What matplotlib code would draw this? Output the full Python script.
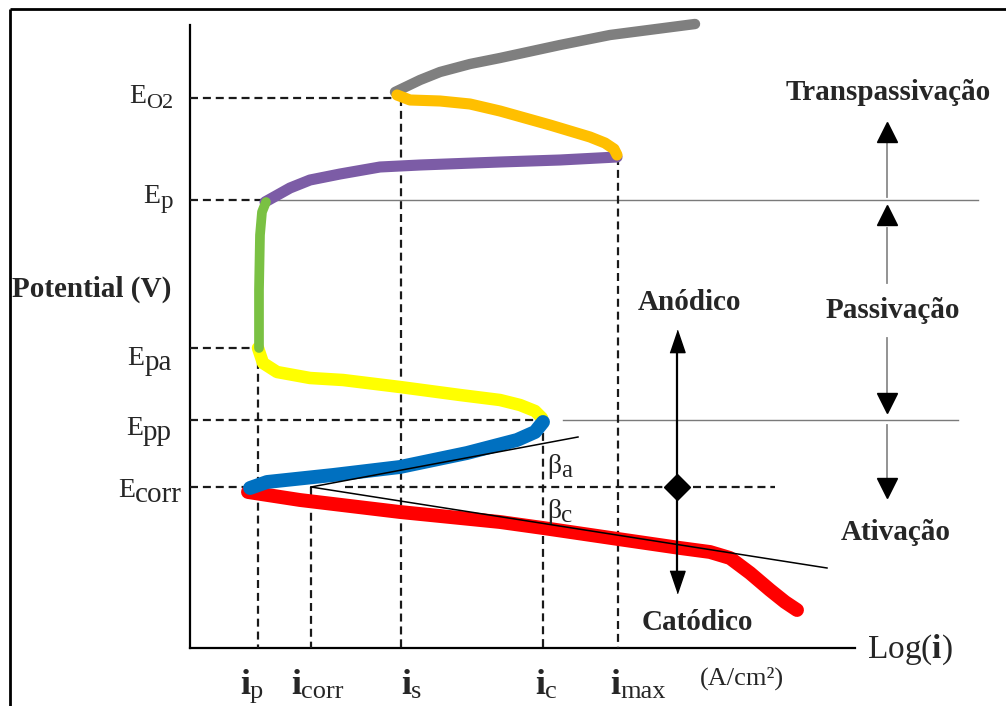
import matplotlib
matplotlib.use('Agg')
import matplotlib.pyplot as plt
import numpy as np

plt.rcParams['font.family'] = ['Liberation Serif', 'DejaVu Serif']
plt.rcParams['mathtext.fontset'] = 'custom'
plt.rcParams['mathtext.rm'] = 'Liberation Serif'
plt.rcParams['mathtext.bf'] = 'Liberation Serif:bold'

#%% schematic data (arbitrary units: x = log i, y = potential)
E_names = ['O2', 'p', 'pa', 'pp', 'corr']
E_vals = [5.50, 4.48, 3.00, 2.28, 1.61]
i_names = ['p', 'corr', 's', 'c', 'max']
i_vals = [0.68, 1.21, 2.11, 3.53, 4.28]

# transpassive branch
gray_x = [2.05, 2.30, 2.50, 2.80, 3.10, 3.70, 4.20, 5.05]
gray_y = [5.56, 5.68, 5.76, 5.84, 5.90, 6.03, 6.13, 6.24]
orange_x = [2.07, 2.20, 2.50, 2.80, 3.10, 3.60, 4.00, 4.15, 4.24, 4.27]
orange_y = [5.53, 5.48, 5.47, 5.44, 5.37, 5.23, 5.11, 5.05, 4.99, 4.93]
# passive branch
purple_x = [0.75, 1.00, 1.20, 1.50, 1.90, 2.30, 3.10, 3.70, 4.27]
purple_y = [4.46, 4.60, 4.68, 4.74, 4.81, 4.83, 4.86, 4.88, 4.91]
green_x = [0.76, 0.72, 0.70, 0.69, 0.69]
green_y = [4.46, 4.36, 4.13, 3.58, 3.00]
yellow_x = [0.68, 0.73, 0.87, 1.20, 1.53, 2.10, 2.70, 3.10, 3.30, 3.45, 3.52]
yellow_y = [3.00, 2.85, 2.76, 2.70, 2.68, 2.61, 2.53, 2.48, 2.43, 2.37, 2.30]
# active (anodic) and cathodic branches
blue_x = [0.60, 0.77, 1.43, 2.10, 2.77, 3.27, 3.45, 3.53]
blue_y = [1.60, 1.66, 1.73, 1.81, 1.95, 2.08, 2.16, 2.26]
red_x = [0.58, 1.10, 2.10, 3.10, 3.53, 4.28, 4.90, 5.20, 5.40, 5.60, 5.80, 5.95, 6.07]
red_y = [1.56, 1.48, 1.36, 1.26, 1.20, 1.09, 1.00, 0.96, 0.90, 0.75, 0.58, 0.46, 0.38]
# Tafel tangents
tafel_a_x = [1.21, 3.88]
tafel_a_y = [1.61, 2.11]
tafel_c_x = [1.21, 6.37]
tafel_c_y = [1.61, 0.80]

#%%
fig = plt.figure(figsize=(10.06, 7.06), dpi=100)
ax = fig.add_axes([0, 0, 1, 1])
ax.set_xlim(-1.90, 8.16)
ax.set_ylim(-0.58, 6.48)
ax.axis('off')
txt_col = '#262626'

# picture frame (top + left)
ax.plot([-1.80, 8.16], [6.39, 6.39], color='black', lw=2, solid_capstyle='butt')
ax.plot([-1.80, -1.80], [6.39, -0.58], color='black', lw=2, solid_capstyle='butt')

# axes
ax.plot([0, 0], [0, 6.23], color='black', lw=1.6)
ax.plot([0, 6.65], [0, 0], color='black', lw=1.6)

E = dict(zip(E_names, E_vals))
I = dict(zip(i_names, i_vals))
dash = dict(color='#1a1a1a', lw=1.6, dashes=(3.6, 2.2))
thin = dict(color='#7a7a7a', lw=1.0)

ax.plot([0, I['s']], [E['O2']] * 2, **dash)
ax.plot([I['s']] * 2, [E['O2'], 0], **dash)
ax.plot([0, 0.73], [E['p']] * 2, **dash)
ax.plot([0.73, 7.88], [E['p']] * 2, **thin)
ax.plot([0, I['p']], [E['pa']] * 2, **dash)
ax.plot([I['p']] * 2, [E['pa'], 0], **dash)
ax.plot([0, I['c']], [E['pp']] * 2, **dash)
ax.plot([3.73, 7.68], [E['pp']] * 2, **thin)
ax.plot([0, I['p']], [E['corr']] * 2, **dash)
ax.plot([1.55, 5.85], [E['corr']] * 2, **dash)
ax.plot([I['corr']] * 2, [E['corr'], 0], **dash)
ax.plot([I['c']] * 2, [E['pp'], 0], **dash)
ax.plot([I['max']] * 2, [purple_y[-1], 0], **dash)

# curves
rc = dict(solid_capstyle='round', solid_joinstyle='round')
ax.plot(gray_x, gray_y, color='#7f7f7f', lw=7.5, **rc)
ax.plot(purple_x, purple_y, color='#7c5ca6', lw=8, **rc)
ax.plot(orange_x, orange_y, color='#ffbf00', lw=8, **rc)
ax.plot(yellow_x, yellow_y, color='#ffff00', lw=9, **rc)
ax.plot(green_x, green_y, color='#7ac143', lw=7, **rc)
ax.plot(red_x, red_y, color='#ff0000', lw=10, **rc)
ax.plot(blue_x, blue_y, color='#0070c0', lw=10, **rc)
ax.plot(tafel_a_x, tafel_a_y, color='black', lw=1.1)
ax.plot(tafel_c_x, tafel_c_y, color='black', lw=1.1)

# arrows
ax.plot([4.87, 4.87], [3.10, 0.62], color='black', lw=1.6)
head_up = [(-0.34, -0.5), (0.34, -0.5), (0, 0.5)]
head_dn = [(-0.34, 0.5), (0.34, 0.5), (0, -0.5)]
ax.plot(4.87, 3.07, marker=head_up, ms=16, color='black')
ax.plot(4.87, 0.66, marker=head_dn, ms=16, color='black')
ax.plot(4.87, E['corr'], marker='D', ms=13, color='black')

ax.plot([6.97, 6.97], [4.51, 5.06], color='#8a8a8a', lw=1.3)
ax.plot(6.97, 5.16, marker='^', ms=14.5, color='black')
ax.plot([6.97, 6.97], [3.65, 4.20], color='#8a8a8a', lw=1.3)
ax.plot(6.97, 4.33, marker='^', ms=14.5, color='black')
ax.plot([6.97, 6.97], [3.10, 2.55], color='#8a8a8a', lw=1.3)
ax.plot(6.97, 2.45, marker='v', ms=14.5, color='black')
ax.plot([6.97, 6.97], [2.23, 1.70], color='#8a8a8a', lw=1.3)
ax.plot(6.97, 1.60, marker='v', ms=14.5, color='black')

#%% labels
renderer = fig.canvas.get_renderer()
inv = ax.transData.inverted()


def sub_label(x, y, main, sub, size, sub_size, drop=3, weight='normal', align='left'):
    if align == 'left':
        t = ax.text(x, y, main, fontsize=size, fontweight=weight, color=txt_col,
                    ha='left', va='baseline')
        x1 = inv.transform((t.get_window_extent(renderer).x1, 0))[0]
        ax.annotate(sub, (x1, y), xytext=(0, -drop), textcoords='offset points',
                    fontsize=sub_size, color=txt_col, ha='left', va='baseline')
    else:
        s = ax.annotate(sub, (x, y), xytext=(0, -drop), textcoords='offset points',
                        fontsize=sub_size, color=txt_col, ha='right', va='baseline')
        x0 = inv.transform((s.get_window_extent(renderer).x0, 0))[0]
        ax.text(x0, y, main, fontsize=size, fontweight=weight, color=txt_col,
                ha='right', va='baseline')


# potential labels
E_lab_x = [-0.17, -0.17, -0.18, -0.18, -0.08]
E_lab_y = [5.45, 4.45, 2.83, 2.13, 1.51]
E_sub_size = [16, 18, 21, 21, 21]
for name, lx, ly, ss in zip(E_names, E_lab_x, E_lab_y, E_sub_size):
    sub_label(lx, ly, 'E', name, 20, ss, drop=3.5, align='right')

# current labels
i_lab_x = [0.50, 1.01, 2.11, 3.45, 4.20]
for name, lx in zip(i_names, i_lab_x):
    sub_label(lx, -0.46, 'i', name, 26, 19, drop=3, weight='bold')

sub_label(3.57, 1.75, 'β', 'a', 20, 18, drop=3)
sub_label(3.57, 1.30, 'β', 'c', 20, 18, drop=3)

ax.text(-1.78, 3.51, 'Potential (V)', fontsize=21, fontweight='bold', color=txt_col,
        ha='left', va='baseline')
ax.text(6.77, -0.10, r'Log($\mathbf{i}$)', fontsize=24, color=txt_col,
        ha='left', va='baseline')
ax.text(5.10, -0.37, '(A/cm²)', fontsize=19, color=txt_col, ha='left', va='baseline')

bold = dict(fontsize=21, fontweight='bold', color=txt_col, ha='center', va='center')
ax.text(6.98, 5.55, 'Transpassivação', **bold)
ax.text(7.03, 3.38, 'Passivação', **bold)
ax.text(5.00, 3.46, 'Anódico', **bold)
ax.text(7.06, 1.15, 'Ativação', **bold)
ax.text(5.07, 0.26, 'Catódico', **bold)

fig.savefig('out.png', dpi=100)
